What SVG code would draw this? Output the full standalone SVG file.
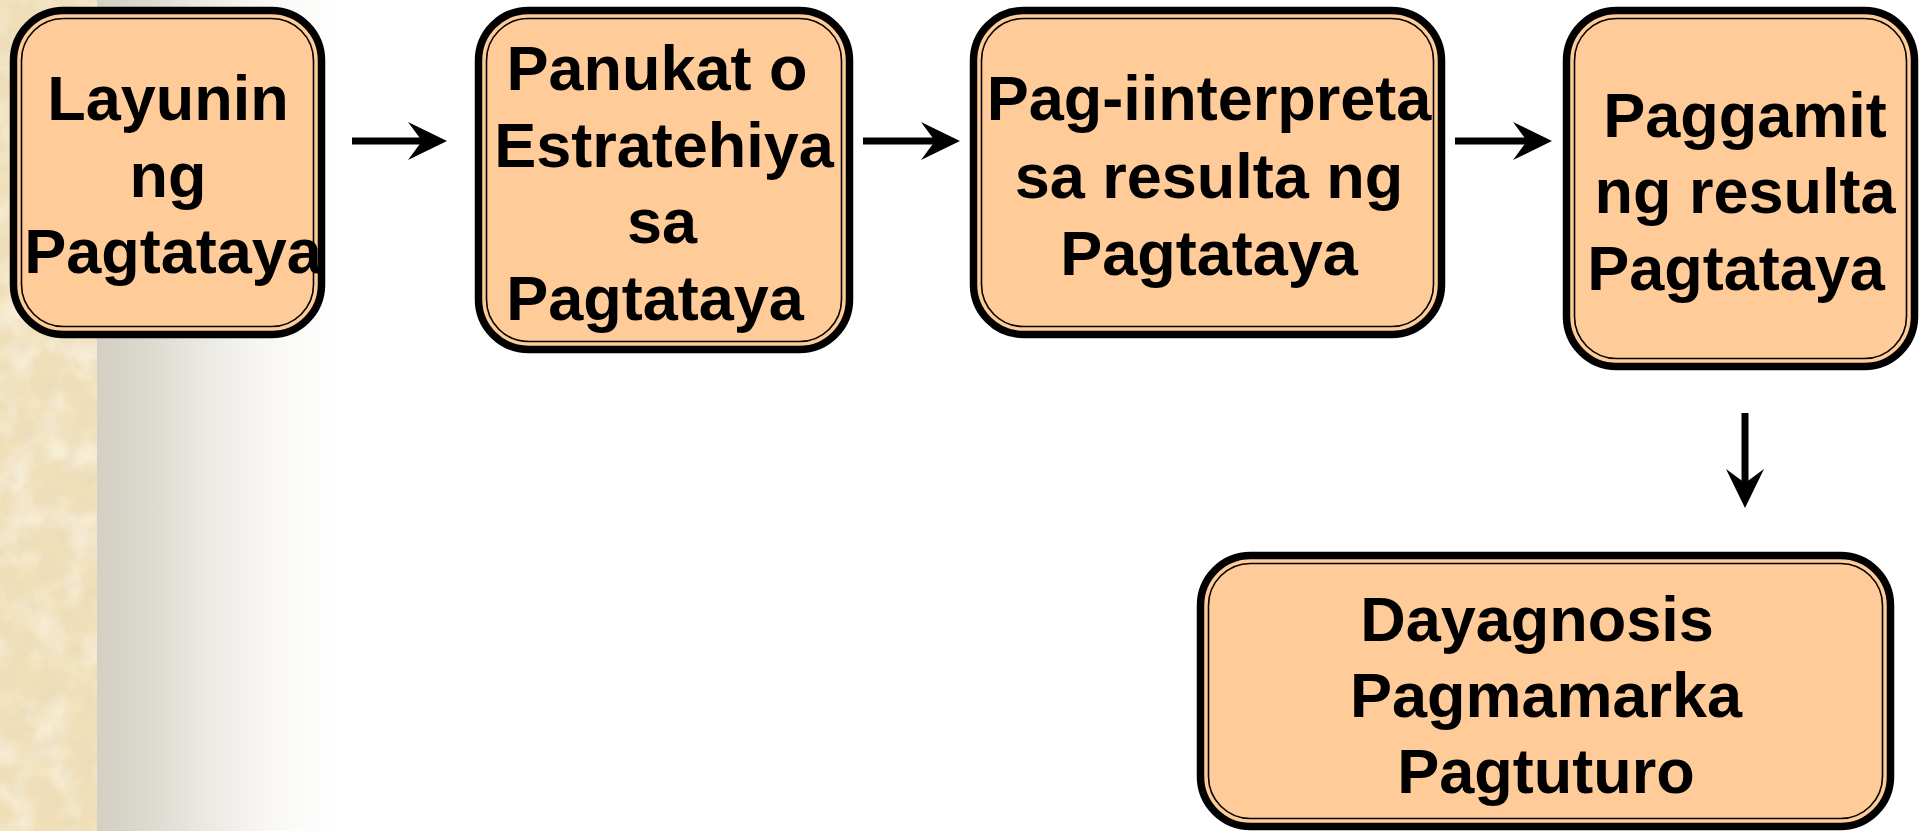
<svg xmlns="http://www.w3.org/2000/svg" width="1920" height="831" viewBox="0 0 1920 831">
  <defs>
    <linearGradient id="shade" x1="0" y1="0" x2="1" y2="0">
      <stop offset="0" stop-color="#d3cfc2"/>
      <stop offset="0.2" stop-color="#dbd8ce"/>
      <stop offset="0.45" stop-color="#ebe9e3"/>
      <stop offset="0.7" stop-color="#f8f7f4"/>
      <stop offset="1" stop-color="#ffffff"/>
    </linearGradient>
    <filter id="paper" x="0" y="0" width="1" height="1">
      <feTurbulence type="fractalNoise" baseFrequency="0.05" numOctaves="4" seed="7" result="n"/>
      <feColorMatrix in="n" type="matrix" values="0 0 0 0 0.78  0 0 0 0 0.68  0 0 0 0 0.52  2 0 0 0 -0.8"/>
    </filter>
    <filter id="paperlight" x="0" y="0" width="1" height="1">
      <feTurbulence type="fractalNoise" baseFrequency="0.03" numOctaves="3" seed="19" result="n"/>
      <feColorMatrix in="n" type="matrix" values="0 0 0 0 1  0 0 0 0 0.97  0 0 0 0 0.9  2 0 0 0 -0.8"/>
    </filter>
    <marker id="ah" markerUnits="userSpaceOnUse" markerWidth="40" markerHeight="40" viewBox="0 -20 40 40" refX="14" refY="0" orient="auto" overflow="visible">
      <path d="M0,-19 L39,0 L0,19 L14,0 Z" fill="#000"/>
    </marker>
  </defs>
  <style>
    .outer { fill: #ffcc99; stroke: #000; stroke-width: 7.5; }
    .inner { fill: none; stroke: #000; stroke-width: 1.6; }
    .lbl { font-family: "Liberation Sans", Arial, sans-serif; font-weight: bold; font-size: 63px; fill: #000; text-anchor: middle; }
    .conn { stroke: #000; stroke-width: 7; fill: none; marker-end: url(#ah); }
  </style>

  <rect x="0" y="0" width="1920" height="831" fill="#ffffff"/>
  <rect x="97" y="0" width="240" height="831" fill="url(#shade)"/>
  <rect x="0" y="0" width="97" height="831" fill="#f0dfb8"/>
  <rect x="0" y="0" width="97" height="831" filter="url(#paperlight)" opacity="0.7"/>
  <rect x="0" y="0" width="97" height="831" filter="url(#paper)" opacity="0.45"/>

  <g id="connectors">
    <line class="conn" x1="352" y1="141" x2="422" y2="141"/>
    <line class="conn" x1="863" y1="141" x2="935" y2="141"/>
    <line class="conn" x1="1455" y1="141" x2="1527" y2="141"/>
    <line class="conn" x1="1745" y1="413" x2="1745" y2="483"/>
  </g>

  <g id="node-layunin">
    <rect class="outer" x="13.5" y="10.5" width="308" height="324" rx="50"/>
    <rect class="inner" x="21.5" y="18.5" width="292" height="308" rx="42"/>
    <text class="lbl" x="168" y="120">Layunin</text>
    <text class="lbl" x="168" y="197">ng</text>
    <text class="lbl" x="173" y="273">Pagtataya</text>
  </g>

  <g id="node-panukat">
    <rect class="outer" x="478.5" y="10.5" width="371" height="339" rx="50"/>
    <rect class="inner" x="486.5" y="18.5" width="355" height="323" rx="42"/>
    <text class="lbl" x="657" y="90">Panukat o</text>
    <text class="lbl" x="664" y="167">Estratehiya</text>
    <text class="lbl" x="662" y="243">sa</text>
    <text class="lbl" x="655" y="320">Pagtataya</text>
  </g>

  <g id="node-interpretasyon">
    <rect class="outer" x="973.5" y="10.5" width="468" height="324" rx="50"/>
    <rect class="inner" x="981.5" y="18.5" width="452" height="308" rx="42"/>
    <text class="lbl" x="1209" y="120">Pag-iinterpreta</text>
    <text class="lbl" x="1209" y="198">sa resulta ng</text>
    <text class="lbl" x="1209" y="275">Pagtataya</text>
  </g>

  <g id="node-paggamit">
    <rect class="outer" x="1566.5" y="10.5" width="348" height="356" rx="50"/>
    <rect class="inner" x="1574.5" y="18.5" width="332" height="340" rx="42"/>
    <text class="lbl" x="1745" y="137">Paggamit</text>
    <text class="lbl" x="1745" y="213">ng resulta</text>
    <text class="lbl" x="1736" y="290">Pagtataya</text>
  </g>

  <g id="node-dayagnosis">
    <rect class="outer" x="1200.5" y="555.5" width="690" height="271" rx="50"/>
    <rect class="inner" x="1208.5" y="563.5" width="674" height="255" rx="42"/>
    <text class="lbl" x="1537" y="641">Dayagnosis</text>
    <text class="lbl" x="1546" y="717">Pagmamarka</text>
    <text class="lbl" x="1546" y="793">Pagtuturo</text>
  </g>
</svg>
